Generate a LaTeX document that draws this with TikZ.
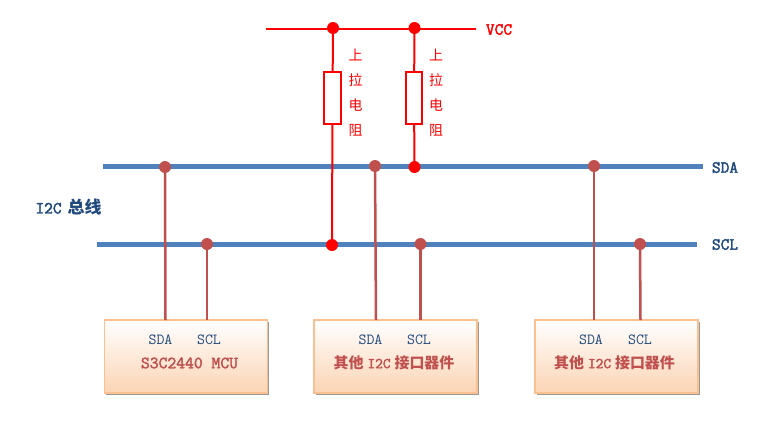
\documentclass[tikz,border=0pt]{standalone}
\usepackage{fontspec}
\newfontfamily\cjk{Noto Sans CJK SC}
\newfontfamily\latbold[FakeBold=2.2]{Latin Modern Mono}
\usetikzlibrary{shadows}
\definecolor{busblue}{HTML}{4F81BD}
\definecolor{tapred}{HTML}{C0504D}
\definecolor{navy}{HTML}{1F497D}
\definecolor{peach}{HTML}{FBD4B4}
\definecolor{peachedge}{HTML}{FAC090}
\tikzset{
  px/.style={x=1bp,y=-1bp},
  bus/.style={line width=4.5bp,busblue},
  tap/.style={line width=2.5bp,tapred},
  pull/.style={line width=2bp,red},
  tapdot/.style={circle,fill=tapred,inner sep=0pt,minimum size=12bp},
  reddot/.style={circle,fill=red,inner sep=0pt,minimum size=12bp},
  res/.style={draw=red,line width=2bp,fill=white,minimum width=16.5bp,minimum height=52bp,inner sep=0pt},
  device/.style={draw=peachedge,line width=1.2bp,top color=white,bottom color=peach,minimum width=163bp,minimum height=73bp,inner sep=0pt,
    general shadow={fill=black!40,shadow xshift=1.6bp,shadow yshift=-2bp}},
  pin/.style={font=\fontsize{15.5}{16}\ttfamily,text=navy,inner sep=0pt},
  devname/.style={font=\fontsize{17.2}{17}\latbold,text=tapred,inner sep=0pt},
  devnamezh/.style={font=\fontsize{15}{17}\latbold,text=tapred,inner sep=0pt},
  buslabel/.style={font=\fontsize{17}{17}\latbold,text=navy,inner sep=0pt},
  vcclabel/.style={font=\fontsize{17}{17}\latbold,text=red,inner sep=0pt},
  pullcap/.style={font=\fontsize{14}{16}\cjk,text=red,inner sep=0pt}
}
\newcommand{\zh}[2]{{\cjk\fontsize{#1}{17}\selectfont\bfseries #2}}
\begin{document}
\begin{tikzpicture}[px]
\useasboundingbox (0,0) rectangle (782,424);
% free ends
\coordinate (sdaL) at (103,166.5); \coordinate (sdaR) at (703,166.5);
\coordinate (sclL) at (97,244.5);  \coordinate (sclR) at (697,244.5);
\coordinate (vccL) at (266,28.5);  \coordinate (vccR) at (476,28.5);
% devices
\node[device] (dev1) at (186,356.5) {};
\node[device] (dev2) at (395.5,356.5) {};
\node[device] (dev3) at (616.5,356.5) {};
% pins on top edges
\coordinate (d1a) at (165.5,320); \coordinate (d1c) at (207,320);
\coordinate (d2a) at (376,320);   \coordinate (d2c) at (420.5,320);
\coordinate (d3a) at (594,320);   \coordinate (d3c) at (640.5,320);
% resistors
\node[res] (r1) at (332.5,98) {};
\node[res] (r2) at (414,98) {};
% buses
\draw[bus] (sdaL) -- (sdaR);
\draw[bus] (sclL) -- (sclR);
\draw[pull] (vccL) -- (vccR);
% dots
\node[tapdot] (t1) at (165,167) {};
\node[tapdot] (t2) at (207,244) {};
\node[tapdot] (t3) at (375,166) {};
\node[tapdot] (t4) at (420.5,244) {};
\node[tapdot] (t5) at (594,166) {};
\node[tapdot] (t6) at (640,244) {};
\node[reddot] (v1) at (333,28) {};
\node[reddot] (v2) at (414.5,28) {};
\node[reddot] (s2) at (414.5,167) {};
\node[reddot] (s1) at (332,245) {};
% taps
\draw[tap] (t1) -- (d1a);
\draw[tap] (t2) -- (d1c);
\draw[tap] (t3) -- (d2a);
\draw[tap] (t4) -- (d2c);
\draw[tap] (t5) -- (d3a);
\draw[tap] (t6) -- (d3c);
% pull-ups
\draw[pull] (v1) -- (r1);
\draw[pull] (r1) -- (s1);
\draw[pull] (v2) -- (r2);
\draw[pull] (r2) -- (s2);
% resistor captions
\foreach \n/\x in {a/355.5,b/436}{
  \node[pullcap] (\n1) at (\x,55) {上};
  \node[pullcap] (\n2) at (\x,80) {拉};
  \node[pullcap] (\n3) at (\x,105) {电};
  \node[pullcap] (\n4) at (\x,130) {阻};
}
% labels
\node[vcclabel] (vcc) at (499,29.5) {VCC};
\node[buslabel] (sda) at (725,167.5) {SDA};
\node[buslabel] (scl) at (725,244.5) {SCL};
\node[buslabel] (i2c) at (68.5,207) {I2C\hspace{6bp}\zh{17}{总线}};
\node[pin] (p1) at (160.5,339.5) {SDA};
\node[pin] (p2) at (209,339.5) {SCL};
\node[pin] (p3) at (370.5,339.5) {SDA};
\node[pin] (p4) at (419,339.5) {SCL};
\node[pin] (p5) at (591,339.5) {SDA};
\node[pin] (p6) at (640,339.5) {SCL};
\node[devname] (n1) at (189.5,363) {S3C2440 MCU};
\node[devnamezh] (n2) at (394,362.5) {\zh{15}{其他}\hspace{4bp}I2C\hspace{4bp}\zh{15}{接口器件}};
\node[devnamezh] (n3) at (614.5,362.5) {\zh{15}{其他}\hspace{4bp}I2C\hspace{4bp}\zh{15}{接口器件}};
\end{tikzpicture}
\end{document}
